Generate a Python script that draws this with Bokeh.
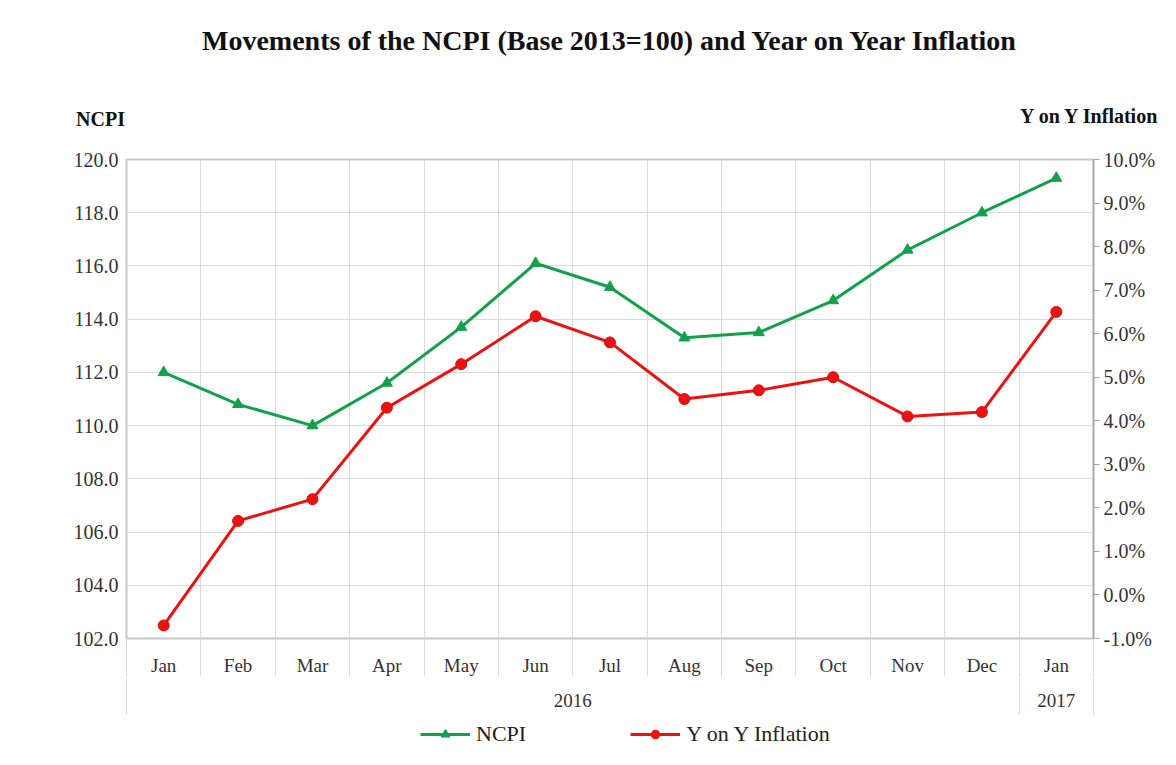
from bokeh.plotting import figure
from bokeh.layouts import column
from bokeh.models import (Range1d, LinearAxis, FixedTicker, Label, Legend, LegendItem,
                          CustomJSTickFormatter, PrintfTickFormatter)
from bokeh.embed import file_html
from bokeh.resources import INLINE

# ---- data ----
months = ["Jan", "Feb", "Mar", "Apr", "May", "Jun", "Jul", "Aug", "Sep", "Oct", "Nov", "Dec", "Jan"]
years = ["2016", "2017"]
year_month_counts = [12, 1]
ncpi = [112.0, 110.8, 110.0, 111.6, 113.7, 116.1, 115.2, 113.3, 113.5, 114.7, 116.6, 118.0, 119.3]
inflation = [-0.7, 1.7, 2.2, 4.3, 5.3, 6.4, 5.8, 4.5, 4.7, 5.0, 4.1, 4.2, 6.5]
ncpi_ticks = [102, 104, 106, 108, 110, 112, 114, 116, 118, 120]
infl_ticks = [-1, 0, 1, 2, 3, 4, 5, 6, 7, 8, 9, 10]

SERIF = "Liberation Serif"
GREEN = "#12a14b"
RED = "#ee1111"
GRID = "#d9d9d9"
TXT = "#333333"
W = 1176
HEAD_H, MAIN_H, FOOT_H = 145, 573, 47

n = len(months)
xc = [i + 0.5 for i in range(n)]
boundaries = list(range(n + 1))

year_centers, year_edges = [], [0]
start = 0
for c in year_month_counts:
    year_centers.append(start + c / 2)
    start += c
    year_edges.append(start)


def no_align(f):
    try:
        f.frame_align = False
    except Exception:
        pass


def blank(h):
    f = figure(width=W, height=h, output_backend="svg", toolbar_location=None, tools="",
               x_range=Range1d(0, W), y_range=Range1d(h, 0),
               x_axis_location=None, y_axis_location=None,
               min_border_left=0, min_border_right=0, min_border_top=0, min_border_bottom=0)
    f.outline_line_color = None
    f.xgrid.visible = False
    f.ygrid.visible = False
    no_align(f)
    return f


# ---- header: title and axis titles ----
head = blank(HEAD_H)
head.add_layout(Label(x=610, y=40, text="Movements of the NCPI (Base 2013=100) and Year on Year Inflation",
                      text_font=SERIF, text_font_style="bold", text_font_size="28px",
                      text_align="center", text_baseline="middle", text_color="#111111"))
head.add_layout(Label(x=100, y=118, text="NCPI", text_font=SERIF, text_font_style="bold",
                      text_font_size="20px", text_align="center", text_baseline="middle", text_color="#111111"))
head.add_layout(Label(x=1159, y=115, text="Y on Y Inflation", text_font=SERIF, text_font_style="bold",
                      text_font_size="20px", text_align="right", text_baseline="middle", text_color="#111111"))

# ---- main chart ----
p = figure(width=W, height=MAIN_H, output_backend="svg", toolbar_location=None, tools="",
           x_range=Range1d(0, n), y_range=Range1d(ncpi_ticks[0], ncpi_ticks[-1]),
           min_border_left=126, min_border_right=83, min_border_top=14, min_border_bottom=80)
no_align(p)
p.extra_y_ranges = {"infl": Range1d(infl_ticks[0], infl_ticks[-1])}
p.outline_line_color = "#c8c8c8"
p.outline_line_width = 2

xa = p.xaxis[0]
xa.ticker = FixedTicker(ticks=xc, minor_ticks=boundaries)
xa.formatter = CustomJSTickFormatter(args=dict(labels=months), code="return labels[Math.floor(tick)];")
xa.major_tick_out = 0
xa.major_tick_in = 0
xa.major_tick_line_color = None
xa.minor_tick_out = 38
xa.minor_tick_in = 0
xa.minor_tick_line_color = GRID
xa.axis_line_color = None
xa.major_label_standoff = -22
xa.major_label_text_font = SERIF
xa.major_label_text_font_size = "19px"
xa.major_label_text_color = TXT

ya2 = LinearAxis(ticker=FixedTicker(ticks=year_centers, minor_ticks=[year_edges[0]] + year_edges[-2:]),
                 formatter=CustomJSTickFormatter(args=dict(labels=years, centers=year_centers),
                                                 code="return labels[centers.indexOf(tick)];"))
ya2.major_tick_out = 0
ya2.major_tick_in = 0
ya2.major_tick_line_color = None
ya2.minor_tick_out = 36
ya2.minor_tick_in = 0
ya2.minor_tick_line_color = GRID
ya2.axis_line_color = None
ya2.major_label_standoff = -21
ya2.major_label_text_font = SERIF
ya2.major_label_text_font_size = "19px"
ya2.major_label_text_color = TXT
p.add_layout(ya2, "below")

la = p.yaxis[0]
la.ticker = FixedTicker(ticks=ncpi_ticks)
la.formatter = PrintfTickFormatter(format="%.1f")
la.axis_line_color = None
la.major_tick_line_color = None
la.major_tick_out = 0
la.minor_tick_line_color = None
la.major_label_standoff = 8
la.major_label_text_font = SERIF
la.major_label_text_font_size = "20px"
la.major_label_text_color = TXT

ra = LinearAxis(y_range_name="infl", ticker=FixedTicker(ticks=infl_ticks),
                formatter=PrintfTickFormatter(format="%.1f%%"))
ra.axis_line_color = "#a6a6a6"
ra.axis_line_width = 1.5
ra.major_tick_line_color = "#a6a6a6"
ra.major_tick_out = 6
ra.major_tick_in = 0
ra.minor_tick_line_color = None
ra.major_label_standoff = 4
ra.major_label_text_font = SERIF
ra.major_label_text_font_size = "20px"
ra.major_label_text_color = TXT
p.add_layout(ra, "right")

p.xgrid.ticker = FixedTicker(ticks=boundaries)
p.xgrid.grid_line_color = GRID
p.ygrid.grid_line_color = GRID

p.line(xc, ncpi, line_color=GREEN, line_width=3)
p.scatter(xc, ncpi, marker="triangle", size=11, fill_color=GREEN, line_color=GREEN)
p.line(xc, inflation, y_range_name="infl", line_color=RED, line_width=3)
p.scatter(xc, inflation, y_range_name="infl", marker="circle", size=11, fill_color=RED, line_color="#d01010")

# ---- footer: legend (legend swatches only, no data drawn) ----
foot = blank(FOOT_H)
nan = float("nan")
lg = foot.line([0], [nan], line_color=GREEN, line_width=3)
lgs = foot.scatter([0], [nan], marker="triangle", size=11, fill_color=GREEN, line_color=GREEN)
lr = foot.line([0], [nan], line_color=RED, line_width=3)
lrs = foot.scatter([0], [nan], marker="circle", size=10, fill_color=RED, line_color=RED)
legend = Legend(items=[LegendItem(label="NCPI", renderers=[lg, lgs]),
                       LegendItem(label="Y on Y Inflation", renderers=[lr, lrs])],
                orientation="horizontal", location=(420, 18),
                padding=0, margin=0, spacing=104, label_standoff=6,
                glyph_width=50, glyph_height=22,
                border_line_color=None, background_fill_alpha=0,
                label_text_font=SERIF, label_text_font_size="22px", label_text_color="#222222")
foot.add_layout(legend)

layout = column(head, p, foot, spacing=0)
open("out.html", "w").write(file_html(layout, INLINE))
